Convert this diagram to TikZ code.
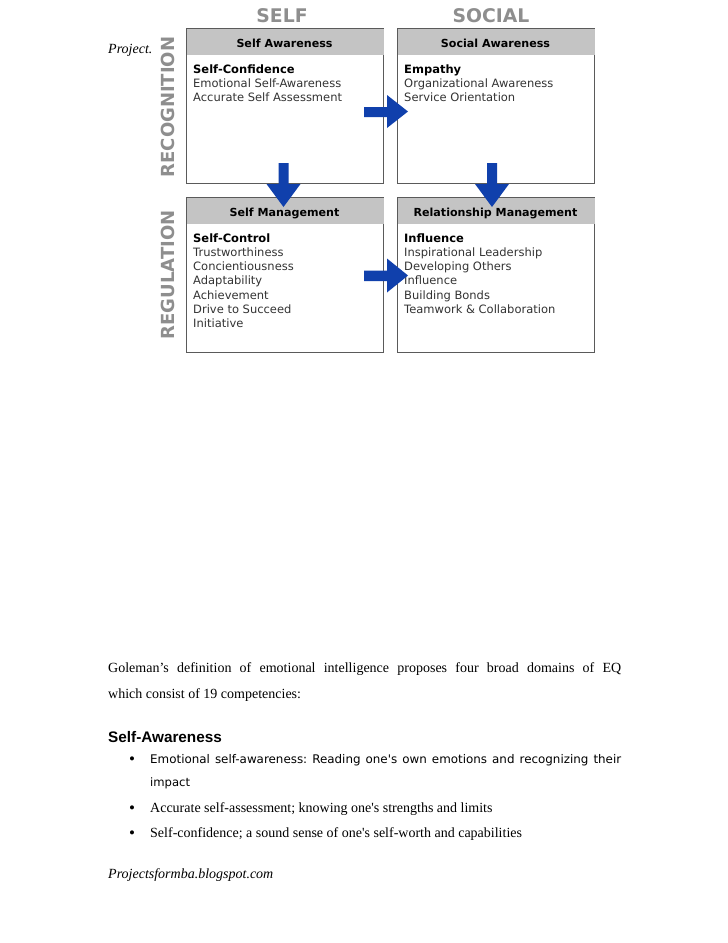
\documentclass[tikz,border=0pt]{standalone}
\usepackage{fontspec}
\setmainfont{Liberation Serif}
\newfontfamily\verd{DejaVu Sans}
\newfontfamily\arialf{Liberation Sans}
\definecolor{hdrgray}{HTML}{C4C4C4}
\definecolor{boxline}{HTML}{5A5A5A}
\definecolor{lblgray}{HTML}{8E8E8E}
\definecolor{arrowblue}{HTML}{1040AC}
\definecolor{bodytxt}{HTML}{333333}
\begin{document}
\frenchspacing
\begin{tikzpicture}[x=1pt,y=-1pt,
  quad/.style={draw=boxline,line width=1.1pt,fill=white,inner sep=0pt,anchor=north west},
  hdrtxt/.style={font=\verd\bfseries\fontsize{11.1}{12}\selectfont,inner sep=0pt,anchor=base},
  boxfirst/.style={font=\verd\bfseries\fontsize{11.5}{12}\selectfont,inner sep=0pt,anchor=base west},
  boxline/.style={font=\verd\fontsize{11.5}{12}\selectfont,text=bodytxt,inner sep=0pt,anchor=base west},
  bigcol/.style={font=\verd\bfseries\fontsize{18.8}{20}\selectfont,text=lblgray,inner sep=0pt,anchor=base},
  siderow/.style={font=\verd\bfseries\fontsize{18}{20}\selectfont,text=lblgray,inner sep=0pt,rotate=90},
  serif/.style={font=\fontsize{14}{16}\selectfont,inner sep=0pt,anchor=base west},
  blt/.style={font=\fontsize{17}{18}\selectfont,inner sep=0pt,anchor=base},
  blockarrow/.style={fill=arrowblue,draw=none}
]
\useasboundingbox (0,0) rectangle (728,943);
\fill[white] (0,0) rectangle (728,943);

% column headings
\node[bigcol] (colself) at (282,22) {SELF};
\node[bigcol] (colsocial) at (491,22) {SOCIAL};
\node[siderow] (rowrec) at (168,107) {RECOGNITION};
\node[siderow] (rowreg) at (168,275) {REGULATION};
\node[serif,font=\itshape\fontsize{14}{16}\selectfont] (proj) at (108,53) {Project.};

% boxes
\node[quad,minimum width=197pt,minimum height=155pt] (b1) at (186,28) {};
\node[quad,minimum width=197pt,minimum height=155pt] (b2) at (397,28) {};
\node[quad,minimum width=197pt,minimum height=155pt] (b3) at (186,197) {};
\node[quad,minimum width=197pt,minimum height=155pt] (b4) at (397,197) {};
\fill[hdrgray] ([xshift=0.55pt,yshift=-0.55pt]b1.north west) rectangle ([xshift=-0.55pt]b1.north east |- 0,55);
\fill[hdrgray] ([xshift=0.55pt,yshift=-0.55pt]b2.north west) rectangle ([xshift=-0.55pt]b2.north east |- 0,55);
\fill[hdrgray] ([xshift=0.55pt,yshift=-0.55pt]b3.north west) rectangle ([xshift=-0.55pt]b3.north east |- 0,224);
\fill[hdrgray] ([xshift=0.55pt,yshift=-0.55pt]b4.north west) rectangle ([xshift=-0.55pt]b4.north east |- 0,224);

\node[hdrtxt] (h1) at (284.5,47) {Self Awareness};
\node[hdrtxt] (h2) at (495.5,47) {Social Awareness};
\node[hdrtxt] (h3) at (284.5,216) {Self Management};
\node[hdrtxt] (h4) at (495.5,216) {Relationship Management};

% box contents
\node[boxfirst] (t1a) at (193,73) {Self-Confidence};
\foreach \t [count=\i] in {Emotional Self-Awareness,Accurate Self Assessment}
  \node[boxline] (t1\i) at (193,73+14.4*\i) {\t};
\node[boxfirst] (t2a) at (404,73) {Empathy};
\foreach \t [count=\i] in {Organizational Awareness,Service Orientation}
  \node[boxline] (t2\i) at (404,73+14.4*\i) {\t};
\node[boxfirst] (t3a) at (193,242) {Self-Control};
\foreach \t [count=\i] in {Trustworthiness,Concientiousness,Adaptability,Achievement,Drive to Succeed,Initiative}
  \node[boxline] (t3\i) at (193,242+14.3*\i) {\t};
\node[boxfirst] (t4a) at (404,242) {Influence};
\foreach \t [count=\i] in {Inspirational Leadership,Developing Others,Influence,Building Bonds,Teamwork \& Collaboration}
  \node[boxline] (t4\i) at (404,242+14.3*\i) {\t};

% block arrows
\fill[blockarrow] (364,107) -- (387,107) -- (387,95) -- (408,111.5) -- (387,128) -- (387,117) -- (364,117) -- cycle;
\fill[blockarrow] (364,270.5) -- (387,270.5) -- (387,258.5) -- (408,275.5) -- (387,292.5) -- (387,281) -- (364,281) -- cycle;
\fill[blockarrow] (278.5,163) -- (288.5,163) -- (288.5,184) -- (300.5,184) -- (283.5,207) -- (266.5,184) -- (278.5,184) -- cycle;
\fill[blockarrow] (487,163) -- (497,163) -- (497,184) -- (509,184) -- (492,207) -- (475,184) -- (487,184) -- cycle;

% bottom text
\node[serif] (p1) at (108,672) {\makebox[513pt][s]{Goleman’s definition of emotional intelligence proposes four broad domains of EQ}};
\node[serif] (p2) at (108,698) {which consist of 19 competencies:};
\node[serif,font=\arialf\bfseries\fontsize{15.3}{17}\selectfont] (sa) at (108,742) {Self-Awareness};
\node[blt] (bu1) at (132,764) {•};
\node[blt] (bu2) at (132,813) {•};
\node[blt] (bu3) at (132,838) {•};
\node[serif,font=\verd\fontsize{11.9}{13}\selectfont] (l1) at (150,763) {\makebox[471pt][s]{Emotional self-awareness: Reading one\textquotesingle s own emotions and recognizing their}};
\node[serif,font=\verd\fontsize{11.6}{13}\selectfont] (l1b) at (150,786) {impact};
\node[serif] (l2) at (150,812) {Accurate self-assessment; knowing one\textquotesingle s strengths and limits};
\node[serif] (l3) at (150,837) {Self-confidence; a sound sense of one\textquotesingle s self-worth and capabilities};
\node[serif,font=\itshape\fontsize{14}{16}\selectfont] (foot) at (108,878) {Projectsformba.blogspot.com};
\end{tikzpicture}
\end{document}
